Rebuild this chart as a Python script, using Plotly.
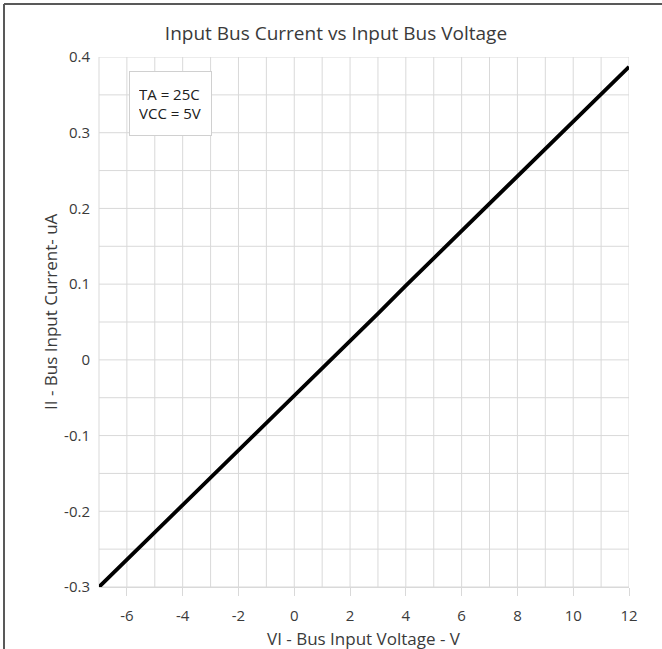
import plotly.graph_objects as go

# Data
vi_volts = [-7, -6, -5, -4, -3, -2, -1, 0, 1, 2, 3, 4, 5, 6, 7, 8, 9, 10, 11, 12]
ii_microamps = [-0.300, -0.264, -0.228, -0.192, -0.155, -0.119, -0.083, -0.047, -0.011,
                0.025, 0.061, 0.098, 0.134, 0.170, 0.206, 0.242, 0.278, 0.315, 0.351, 0.387]
x_tickvals = [-6, -4, -2, 0, 2, 4, 6, 8, 10, 12]
x_ticktext = ["-6", "-4", "-2", "0", "2", "4", "6", "8", "10", "12"]
y_tickvals = [-0.3, -0.2, -0.1, 0, 0.1, 0.2, 0.3, 0.4]
y_ticktext = ["-0.3", "-0.2", "-0.1", "0", "0.1", "0.2", "0.3", "0.4"]

FONT = "Open Sans"
TXT = "#3a3a3a"
GRID = "#d9d9d9"
W, H = 662, 649
L, R, T, B = 99, 33, 57, 62
PW, PH = W - L - R, H - T - B

fig = go.Figure()
fig.add_trace(go.Scatter(x=vi_volts, y=ii_microamps, mode="lines",
                         line=dict(color="black", width=3.8), showlegend=False,
                         hoverinfo="skip"))

fig.update_layout(
    width=W, height=H,
    margin=dict(l=L, r=R, t=T, b=B, autoexpand=False),
    paper_bgcolor="white", plot_bgcolor="white",
    font=dict(family=FONT, color=TXT, size=15),
    title=dict(text="Input Bus Current vs Input Bus Voltage", x=336 / W, xanchor="center",
               y=1 - 33 / H, yanchor="middle", font=dict(size=19, color=TXT, family=FONT)),
    xaxis=dict(range=[-7, 12], tickvals=x_tickvals, ticktext=x_ticktext, ticks="outside", ticklen=8,
               tickcolor=GRID, showgrid=False, zeroline=False,
               showline=True, linecolor=GRID, linewidth=1, ticklabelstandoff=7,
               tickfont=dict(size=15, color=TXT)),
    yaxis=dict(range=[-0.3, 0.4], tickvals=y_tickvals, ticktext=y_ticktext,
               showgrid=False, zeroline=False, ticks="", ticklabelstandoff=8,
               tickfont=dict(size=15, color=TXT)),
)

# Axis titles
fig.add_annotation(xref="paper", yref="paper", x=0.5, y=-(638 - (T + PH)) / PH,
                   xanchor="center", yanchor="middle", showarrow=False,
                   text="VI - Bus Input Voltage - V", font=dict(size=17, color=TXT, family=FONT))
fig.add_annotation(xref="paper", yref="paper", x=(50 - L) / PW, y=1 - (312 - T) / PH,
                   xanchor="center", yanchor="middle", showarrow=False, textangle=-90,
                   text="II - Bus Input Current- uA", font=dict(size=17, color=TXT, family=FONT))

# Gridlines: every 1 V and every 0.05 uA
shapes = []
for v in range(-6, 13):
    shapes.append(dict(type="line", xref="x", yref="paper", x0=v, x1=v, y0=0, y1=1,
                       line=dict(color=GRID, width=1), layer="below"))
for k in range(0, 15):
    yv = -0.3 + 0.05 * k
    shapes.append(dict(type="line", xref="paper", yref="y", x0=0, x1=1, y0=yv, y1=yv,
                       line=dict(color=GRID, width=1), layer="below"))
shapes.append(dict(type="line", xref="paper", yref="paper", x0=0, x1=0, y0=0, y1=1,
                   line=dict(color=GRID, width=1), layer="below"))
# Outer frame (top and left edges visible)
fx = (4 - L) / PW
fy = 1 + (T - 4) / PH
shapes.append(dict(type="line", xref="paper", yref="paper", x0=fx, x1=fx, y0=fy, y1=-0.2,
                   line=dict(color="#595959", width=2)))
shapes.append(dict(type="line", xref="paper", yref="paper", x0=fx, x1=1.2, y0=fy, y1=fy,
                   line=dict(color="#595959", width=2)))
fig.update_layout(shapes=shapes)

# Condition box
fig.add_annotation(xref="paper", yref="paper", x=(129 - L) / PW, y=1 - (71 - T) / PH,
                   xanchor="left", yanchor="top", align="left", valign="middle", showarrow=False,
                   text="TA = 25C<br>VCC = 5V", font=dict(size=15, color="#202020", family=FONT),
                   bordercolor="#d0d0d0", borderwidth=1, borderpad=9, bgcolor="white",
                   width=63, height=45)

fig.write_html("out.html", config={"displayModeBar": False},
               post_script="document.body.style.margin='0';")
